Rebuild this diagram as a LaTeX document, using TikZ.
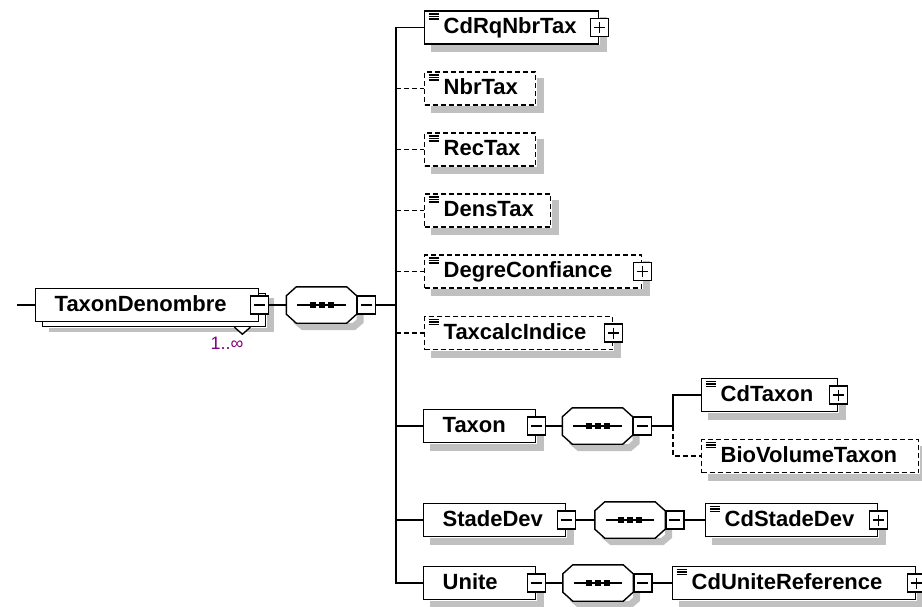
\documentclass[tikz,border=0pt]{standalone}
\usepackage{fontspec}
\setmainfont{Liberation Sans}
\usetikzlibrary{shadows}
\definecolor{multpurple}{RGB}{128,0,128}
\definecolor{boxshade}{RGB}{192,192,192}
\newcommand{\eltxt}[2]{\makebox[#1pt][l]{\hspace{19pt}#2}}
\newcommand{\octpath}[3]{([shift={(10+#2,#2+#3)}]#1.north west) -- ([shift={(-10+#2,#2+#3)}]#1.north east)
  -- ([shift={(#2-#3,9+#2)}]#1.north east) -- ([shift={(#2-#3,-9+#2)}]#1.south east)
  -- ([shift={(-10+#2,#2-#3)}]#1.south east) -- ([shift={(10+#2,#2-#3)}]#1.south west)
  -- ([shift={(#2+#3,-9+#2)}]#1.south west) -- ([shift={(#2+#3,9+#2)}]#1.north west) -- cycle}
\newcommand{\seqdraw}[1]{%
  \draw[shadowline] \octpath{#1}{7}{3.5};
  \draw[fill=white] \octpath{#1}{0}{0};
  \draw ([shift={(11,0)}]#1.west) -- ([shift={(-11,0)}]#1.east);
  \foreach \d in {-9,0,9}
    \fill ([shift={(\d,0)}]#1.center) +(-3,-3) rectangle +(3,3);}
\newcommand{\boxshadow}[1]{%
  \draw[shadowline] ([shift={(4.2,7)}]#1.north east) -- ([shift={(4.2,4.2)}]#1.south east)
    -- ([shift={(7,4.2)}]#1.south west);}

\begin{document}
\begin{tikzpicture}[x=1pt,y=-1pt,line width=1.4pt,
    every node/.style={inner sep=0pt},
    shadowline/.style={draw=boxshade,line width=7pt,line join=miter,line cap=butt},
    elem/.style={draw,fill=white,anchor=west,minimum height=33pt,text height=16pt,text depth=4pt,
      font=\fontsize{22}{24}\selectfont\bfseries},
    simple/.style={elem,path picture={
      \foreach \k in {3,5.5,8}
        \draw[solid,line width=1.1pt] ([shift={(4pt,-\k pt)}]path picture bounding box.north west) -- ++(10pt,0pt);}},
    opt/.style={dash pattern=on 5pt off 3pt},
    btn/.style={draw,solid,fill=white,minimum size=18pt},
    plusbtn/.style={btn,path picture={
      \draw ([xshift=3.5pt]path picture bounding box.west) -- ([xshift=-3.5pt]path picture bounding box.east);
      \draw ([yshift=-3.5pt]path picture bounding box.north) -- ([yshift=3.5pt]path picture bounding box.south);}},
    minusbtn/.style={btn,path picture={
      \draw ([xshift=3.5pt]path picture bounding box.west) -- ([xshift=-3.5pt]path picture bounding box.east);}},
    seq/.style={minimum width=69pt,minimum height=35pt}]
  \useasboundingbox (0,0) rectangle (922,607);

  \coordinate (in) at (17,305);
  \node[elem,copy shadow={shadow xshift=7pt,shadow yshift=-5pt,draw=black,fill=white}] (td) at (35,305) {\eltxt{223}{TaxonDenombre}};
  \node[seq] (s1) at (321.5,305) {};
  \coordinate (trunk) at (396,305);

  \node[simple] (cdrq) at (424,27.5) {\eltxt{174}{CdRqNbrTax}};
  \node[simple,opt] (nbr) at (424,88.5) {\eltxt{111}{NbrTax}};
  \node[simple,opt] (rec) at (424,149.5) {\eltxt{111}{RecTax}};
  \node[simple,opt] (dens) at (424,210.5) {\eltxt{126}{DensTax}};
  \node[simple,opt] (degre) at (424,271.5) {\eltxt{217}{DegreConfiance}};
  \node[simple,opt] (taxcalc) at (424,333) {\eltxt{188}{TaxcalcIndice}};

  \node[elem] (taxon) at (423,426) {\eltxt{112}{Taxon}};
  \node[seq] (s2) at (597.5,426) {};
  \coordinate (trunk2) at (673,426);
  \node[simple] (cdtaxon) at (701,395) {\eltxt{136}{CdTaxon}};
  \node[simple,opt] (biovol) at (701,456) {\eltxt{217}{BioVolumeTaxon}};

  \node[elem] (stade) at (423,520) {\eltxt{142}{StadeDev}};
  \node[seq] (s3) at (630,520) {};
  \node[simple] (cdstade) at (705,520) {\eltxt{172}{CdStadeDev}};

  \node[elem] (unite) at (423,583) {\eltxt{112}{Unite}};
  \node[seq] (s4) at (598,583) {};
  \node[simple] (cdunite) at (672,583) {\eltxt{243}{CdUniteReference}};

  \foreach \n in {cdrq,nbr,rec,dens,degre,taxcalc,taxon,cdtaxon,biovol,stade,cdstade,unite,cdunite} {
    \boxshadow{\n}
  }
  \draw[shadowline] ([shift={(11.2,10)}]td.north east) -- ([shift={(11.2,10)}]td.south east);
  \draw[shadowline,line width=4.3pt] ([shift={(14,7.85)}]td.south west) -- ([shift={(14.7,7.85)}]td.south east);
  \draw[fill=white] ([shift={(-25,5)}]td.south east) -- ++(8,7) -- ++(8,-7);
  \foreach \n in {s1,s2,s3,s4} {
    \seqdraw{\n}
  }

  \node[minusbtn] (tdm) at (td.east) {};
  \node[minusbtn,anchor=west] (s1m) at (s1.east) {};
  \node[plusbtn] (cdrqp) at (cdrq.east) {};
  \node[plusbtn] (degrep) at (degre.east) {};
  \node[plusbtn] (taxcalcp) at (taxcalc.east) {};
  \node[minusbtn] (taxonm) at (taxon.east) {};
  \node[minusbtn,anchor=west] (s2m) at (s2.east) {};
  \node[plusbtn] (cdtaxonp) at (cdtaxon.east) {};
  \node[minusbtn] (stadem) at (stade.east) {};
  \node[minusbtn,anchor=west] (s3m) at (s3.east) {};
  \node[plusbtn] (cdstadep) at (cdstade.east) {};
  \node[minusbtn] (unitem) at (unite.east) {};
  \node[minusbtn,anchor=west] (s4m) at (s4.east) {};
  \node[plusbtn] (cdunitep) at (cdunite.east) {};
  \node[text=multpurple,font=\fontsize{18}{20}\selectfont] (mult) at (227,343) {1..∞};

  \draw (in) -- (td.west);
  \draw (tdm.east) -- (s1.west);
  \draw (s1m.east) -- (trunk);
  \draw (trunk) |- (cdrq.west);
  \draw (trunk) |- (unite.west);
  \foreach \n in {nbr,rec,dens,degre,taxcalc}
    \draw[opt] (trunk |- \n.west) -- (\n.west);
  \draw (trunk |- taxon.west) -- (taxon.west);
  \draw (trunk |- stade.west) -- (stade.west);

  \draw (taxonm.east) -- (s2.west);
  \draw (s2m.east) -- (trunk2);
  \draw (trunk2) |- (cdtaxon.west);
  \draw[opt] (trunk2) |- (biovol.west);

  \draw (stadem.east) -- (s3.west);
  \draw (s3m.east) -- (cdstade.west);
  \draw (unitem.east) -- (s4.west);
  \draw (s4m.east) -- (cdunite.west);
\end{tikzpicture}
\end{document}
